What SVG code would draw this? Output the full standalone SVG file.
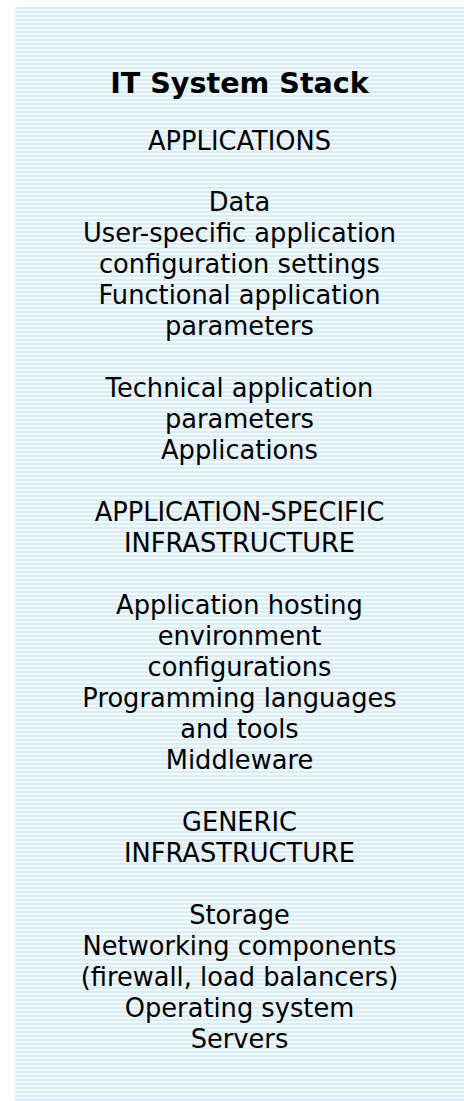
<svg xmlns="http://www.w3.org/2000/svg" width="464" height="1101" viewBox="0 0 464 1101">
<style>
text{font-family:"DejaVu Sans","Verdana",sans-serif;fill:#000;text-anchor:middle}
.t{font-size:25.7px}
.h{font-size:28.6px;font-weight:bold}
</style>
<defs>
<pattern id="stripes" x="0" y="7" width="8" height="4" patternUnits="userSpaceOnUse">
<rect width="8" height="4" fill="#f2f9fc"/>
<rect width="8" height="2" fill="#daedf6"/>
</pattern>
</defs>
<rect id="background" x="15" y="7" width="449" height="1094" fill="url(#stripes)"/>
<g id="title"><text class="h" x="239.5" y="93">IT System Stack</text></g>
<g id="applications">
<text class="t" x="239.5" y="150">APPLICATIONS</text>
<text class="t" x="239.5" y="211">Data</text>
<text class="t" x="239.5" y="242">User-specific application</text>
<text class="t" x="239.5" y="273">configuration settings</text>
<text class="t" x="239.5" y="304">Functional application</text>
<text class="t" x="239.5" y="335">parameters</text>
<text class="t" x="239.5" y="397">Technical application</text>
<text class="t" x="239.5" y="428">parameters</text>
<text class="t" x="239.5" y="459">Applications</text>
</g>
<g id="app-infra">
<text class="t" x="239.5" y="521">APPLICATION-SPECIFIC</text>
<text class="t" x="239.5" y="552">INFRASTRUCTURE</text>
<text class="t" x="239.5" y="614">Application hosting</text>
<text class="t" x="239.5" y="645">environment</text>
<text class="t" x="239.5" y="676">configurations</text>
<text class="t" x="239.5" y="707">Programming languages</text>
<text class="t" x="239.5" y="738">and tools</text>
<text class="t" x="239.5" y="769">Middleware</text>
</g>
<g id="generic-infra">
<text class="t" x="239.5" y="831">GENERIC</text>
<text class="t" x="239.5" y="862">INFRASTRUCTURE</text>
<text class="t" x="239.5" y="924">Storage</text>
<text class="t" x="239.5" y="955">Networking components</text>
<text class="t" x="239.5" y="986">(firewall, load balancers)</text>
<text class="t" x="239.5" y="1017">Operating system</text>
<text class="t" x="239.5" y="1048">Servers</text>
</g>
<g id="connectors"/>
</svg>
